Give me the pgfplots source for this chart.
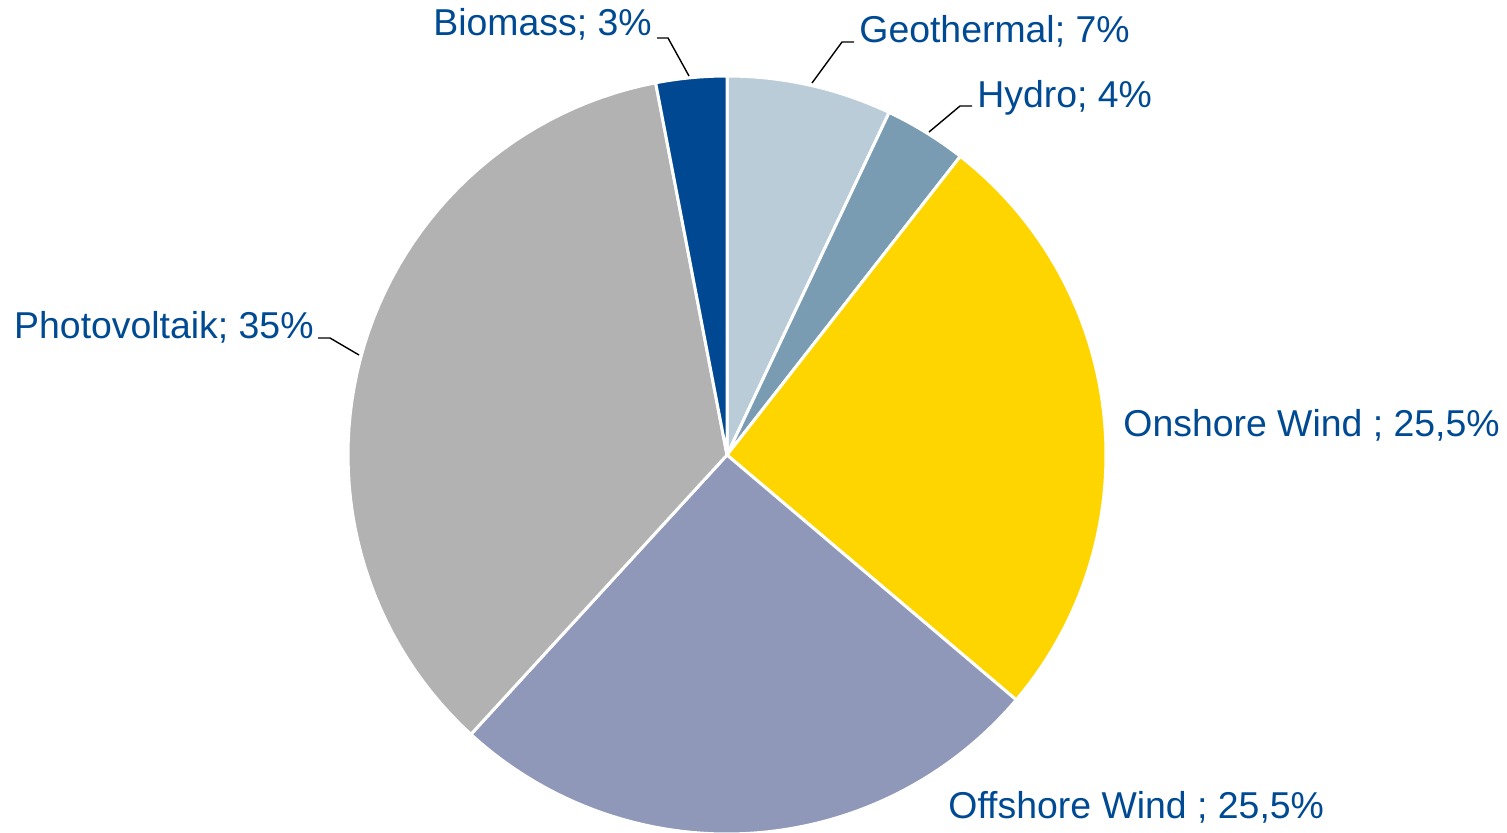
\documentclass[border=0pt]{standalone}
\usepackage{pgfplots}
\pgfplotsset{compat=1.18}
\usepackage{fontspec}
\setmainfont{Liberation Sans}
\definecolor{cGeo}{HTML}{B9CCD8}
\definecolor{cHyd}{HTML}{7A9CB2}
\definecolor{cOn}{HTML}{FFD500}
\definecolor{cOff}{HTML}{8F98B8}
\definecolor{cPV}{HTML}{B2B2B2}
\definecolor{cBio}{HTML}{004992}
\definecolor{cTxt}{HTML}{004A93}
\tikzset{
  slice/.style={draw=white, line width=1.5pt, line join=round},
  lbl/.style={text=cTxt, font=\fontsize{18.7}{22}\selectfont, inner sep=0pt},
  lead/.style={draw=black, line width=0.7pt},
}
% shares in percent
\def\pGeo{7}
\def\pHyd{3.5}
\def\pOn{25.5}
\def\pOff{25.5}
\def\pPV{35}
\def\pBio{3}
\def\R{379}
\pgfmathsetmacro\tot{\pGeo+\pHyd+\pOn+\pOff+\pPV+\pBio}
\pgfmathsetmacro\k{360/\tot}
\pgfmathsetmacro\aA{90}
\pgfmathsetmacro\aB{\aA-\k*\pGeo}
\pgfmathsetmacro\aC{\aB-\k*\pHyd}
\pgfmathsetmacro\aD{\aC-\k*\pOn}
\pgfmathsetmacro\aE{\aD-\k*\pOff}
\pgfmathsetmacro\aF{\aE-\k*\pPV}
\pgfmathsetmacro\aG{\aF-\k*\pBio}
\begin{document}
\begin{tikzpicture}
\begin{axis}[
  name=ax,
  scale only axis, width=753.5pt, height=416pt,
  xmin=-727, xmax=780, ymin=-377, ymax=455,
  hide axis, clip=true, samples=60,
]
\addplot[slice, fill=cGeo, domain=\aB:\aA] ({\R*cos(x)},{\R*sin(x)}) -- (axis cs:0,0) -- cycle;
\addplot[slice, fill=cHyd, domain=\aC:\aB] ({\R*cos(x)},{\R*sin(x)}) -- (axis cs:0,0) -- cycle;
\addplot[slice, fill=cOn, domain=\aD:\aC] ({\R*cos(x)},{\R*sin(x)}) -- (axis cs:0,0) -- cycle;
\addplot[slice, fill=cOff, domain=\aE:\aD] ({\R*cos(x)},{\R*sin(x)}) -- (axis cs:0,0) -- cycle;
\addplot[slice, fill=cPV, domain=\aF:\aE] ({\R*cos(x)},{\R*sin(x)}) -- (axis cs:0,0) -- cycle;
\addplot[slice, fill=cBio, domain=\aG:\aF] ({\R*cos(x)},{\R*sin(x)}) -- (axis cs:0,0) -- cycle;
% leader lines (image px -> axis: x-727, 455-y)
\draw[lead] (axis cs:-70,417) -- (axis cs:-59,417) -- (axis cs:-38,379);
\draw[lead] (axis cs:85,372) -- (axis cs:115,413) -- (axis cs:127,413);
\draw[lead] (axis cs:202,323) -- (axis cs:233,349) -- (axis cs:245,349);
\draw[lead] (axis cs:-409,117) -- (axis cs:-397,117) -- (axis cs:-368,100);
% labels
\node[lbl, anchor=base east] at (axis cs:-75,419) {Biomass; 3\%};
\node[lbl, anchor=base west] at (axis cs:132,412) {Geothermal; 7\%};
\node[lbl, anchor=base west] at (axis cs:250,348) {Hydro; 4\%};
\node[lbl, anchor=base east] at (axis cs:-413,117) {Photovoltaik; 35\%};
\node[lbl, anchor=base west] at (axis cs:396,19) {Onshore Wind ; 25,5\%};
\node[lbl, anchor=base west] at (axis cs:221,-363) {Offshore Wind ; 25,5\%};
\end{axis}
\pgfresetboundingbox
\path[use as bounding box] (ax.south west) rectangle (ax.north east);
\end{tikzpicture}
\end{document}
